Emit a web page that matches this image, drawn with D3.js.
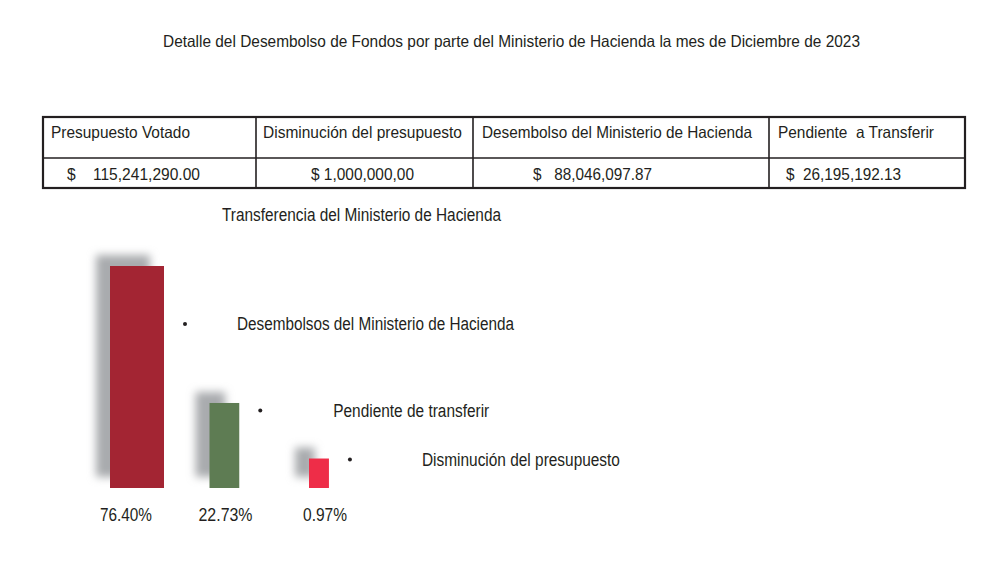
<!DOCTYPE html>
<html>
<head>
<meta charset="utf-8">
<script src="https://cdn.jsdelivr.net/npm/d3@7"></script>
<style>
  html, body { margin: 0; padding: 0; background: #fff; }
  text { font-family: "Liberation Sans", Arial, sans-serif; fill: #231f20; white-space: pre; }
</style>
</head>
<body>
<div id="chart"></div>
<script>
const title = "Detalle del Desembolso de Fondos por parte del Ministerio de Hacienda la mes de Diciembre de 2023";
const tableHeaders = ["Presupuesto Votado", "Disminución del presupuesto", "Desembolso del Ministerio de Hacienda", "Pendiente  a Transferir"];
const tableValues = ["$    115,241,290.00", "$ 1,000,000,00", "$   88,046,097.87", "$  26,195,192.13"];
const chartTitle = "Transferencia del Ministerio de Hacienda";
const categories = ["Desembolsos del Ministerio de Hacienda", "Pendiente de transferir", "Disminución del presupuesto"];
const percents = [76.40, 22.73, 0.97];
const barColors = ["#a32533", "#5e7c53", "#ee2d48"];

const W = 986, H = 575;
const svg = d3.select("#chart").append("svg")
    .attr("width", W).attr("height", H)
    .attr("viewBox", `0 0 ${W} ${H}`);

const defs = svg.append("defs");
defs.append("filter").attr("id", "blur")
    .attr("x", "-50%").attr("y", "-50%").attr("width", "200%").attr("height", "200%")
  .append("feGaussianBlur").attr("stdDeviation", 4);

// titulo
svg.append("text")
    .attr("x", 163).attr("y", 47)
    .attr("font-size", 16.5)
    .attr("textLength", 697).attr("lengthAdjust", "spacingAndGlyphs")
    .text(title);

// tabla
const colEdges = [43, 256, 473, 769, 965];
const tTop = 117, tMid = 158, tBot = 188;
const headX = [51, 263, 482, 778], headW = [139, 199, 270, 156];
const valX = [67, 311, 533, 786], valW = [133, 103, 119, 115];

const table = svg.append("g");
table.append("rect")
    .attr("x", colEdges[0]).attr("y", tTop)
    .attr("width", colEdges[4] - colEdges[0]).attr("height", tBot - tTop)
    .attr("fill", "none").attr("stroke", "#231f20").attr("stroke-width", 2.2);
table.append("line")
    .attr("x1", colEdges[0]).attr("x2", colEdges[4])
    .attr("y1", tMid).attr("y2", tMid)
    .attr("stroke", "#231f20").attr("stroke-width", 1.6);
table.selectAll(".col").data(colEdges.slice(1, 4)).enter().append("line")
    .attr("x1", d => d).attr("x2", d => d)
    .attr("y1", tTop).attr("y2", tBot)
    .attr("stroke", "#231f20").attr("stroke-width", 1.6);

table.selectAll(".head").data(tableHeaders).enter().append("text")
    .attr("x", (d, i) => headX[i]).attr("y", 138)
    .attr("font-size", 16.5)
    .attr("textLength", (d, i) => headW[i]).attr("lengthAdjust", "spacingAndGlyphs")
    .text(d => d);
table.selectAll(".val").data(tableValues).enter().append("text")
    .attr("x", (d, i) => valX[i]).attr("y", 180)
    .attr("font-size", 16.5)
    .attr("textLength", (d, i) => valW[i]).attr("lengthAdjust", "spacingAndGlyphs")
    .text(d => d);

// subtitulo del grafico
svg.append("text")
    .attr("x", 222).attr("y", 221)
    .attr("font-size", 17.5)
    .attr("textLength", 279).attr("lengthAdjust", "spacingAndGlyphs")
    .text(chartTitle);

// barras
const baseY = 488;
const x = d3.scaleBand().domain(categories).range([110, 408.5]).paddingInner(0).paddingOuter(0);
const h = d3.scaleLinear().domain([0, 76.40]).range([27, 222]);
const w = d3.scaleLinear().domain([0, 76.40]).range([19.5, 54]);

const data = categories.map((c, i) => ({ cat: c, pct: percents[i], color: barColors[i] }));

svg.selectAll(".shadow").data(data).enter().append("rect")
    .attr("class", "shadow")
    .attr("x", d => x(d.cat) - 14)
    .attr("y", d => baseY - h(d.pct) - 11)
    .attr("width", d => w(d.pct))
    .attr("height", d => h(d.pct))
    .attr("fill", "#a9abae")
    .attr("filter", "url(#blur)");

svg.selectAll(".bar").data(data).enter().append("rect")
    .attr("class", "bar")
    .attr("x", d => x(d.cat))
    .attr("y", d => baseY - h(d.pct))
    .attr("width", d => w(d.pct))
    .attr("height", d => h(d.pct))
    .attr("fill", d => d.color);

// porcentajes
const fmt = d3.format(".2f");
const pctW = [52, 54, 44];
svg.selectAll(".pct").data(data).enter().append("text")
    .attr("x", d => x(d.cat) + 16)
    .attr("y", 521)
    .attr("font-size", 18)
    .attr("text-anchor", "middle")
    .attr("textLength", (d, i) => pctW[i]).attr("lengthAdjust", "spacingAndGlyphs")
    .text(d => fmt(d.pct) + "%");

// leyenda
const legendY = [330, 416.5, 465.5];
const legendGap = [52, 73, 72];
const legendW = [277, 156, 198];
const legend = svg.selectAll(".leg").data(data).enter().append("g");
legend.append("circle")
    .attr("cx", d => x(d.cat) + w(d.pct) + 21)
    .attr("cy", (d, i) => legendY[i] - 6)
    .attr("r", 2)
    .attr("fill", "#231f20");
legend.append("text")
    .attr("x", (d, i) => x(d.cat) + w(d.pct) + 21 + legendGap[i])
    .attr("y", (d, i) => legendY[i])
    .attr("font-size", 18)
    .attr("textLength", (d, i) => legendW[i]).attr("lengthAdjust", "spacingAndGlyphs")
    .text(d => d.cat);
</script>
</body>
</html>
